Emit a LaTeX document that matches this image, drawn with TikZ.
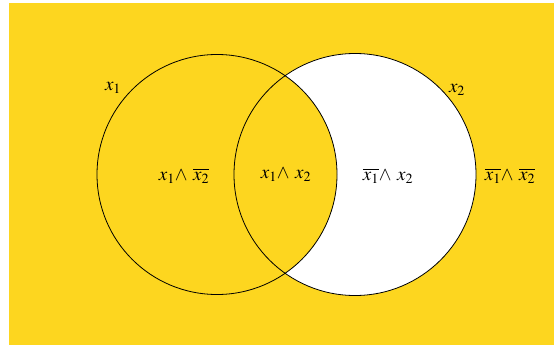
\documentclass[tikz,border=0pt]{standalone}
\usepackage{xcolor}
\usepackage{tikz}
\usepackage{amsmath}
\usepackage{mathptmx}
\definecolor{vennyellow}{RGB}{253,214,31}
\tikzset{
  setlabel/.style={font=\fontsize{19}{23}\selectfont, inner sep=1pt},
  regionlabel/.style={font=\fontsize{19}{23}\selectfont, inner sep=1pt},
  setline/.style={draw=black, line width=0.8pt},
}

\begin{document}
\begin{tikzpicture}[x=1pt, y=-1pt]
\useasboundingbox (0,0) rectangle (554,345);
\fill[vennyellow] (9,3) rectangle (554,345);

\coordinate (cA) at (217,174.5);
\coordinate (cB) at (355,174.5);

% x2 only is white, everything touching x1 stays yellow
\fill[white] (cB) circle (121);
\fill[vennyellow] (cA) circle (120);
\draw[setline] (cA) circle (120);
\draw[setline] (cB) circle (121);

\node[setlabel] (lA) at (113,88) {$x_1$};
\node[setlabel] (lB) at (457,90) {$x_2$};

\node[regionlabel] (onlyA) at (184,176) {$x_1{\wedge}\ \overline{x_2}$};
\node[regionlabel] (both) at (286,175) {$x_1{\wedge}\ x_2$};
\node[regionlabel] (onlyB) at (388,176) {$\overline{x_1}{\wedge}\ x_2$};
\node[regionlabel] (none) at (510,176) {$\overline{x_1}{\wedge}\ \overline{x_2}$};
\end{tikzpicture}
\end{document}
